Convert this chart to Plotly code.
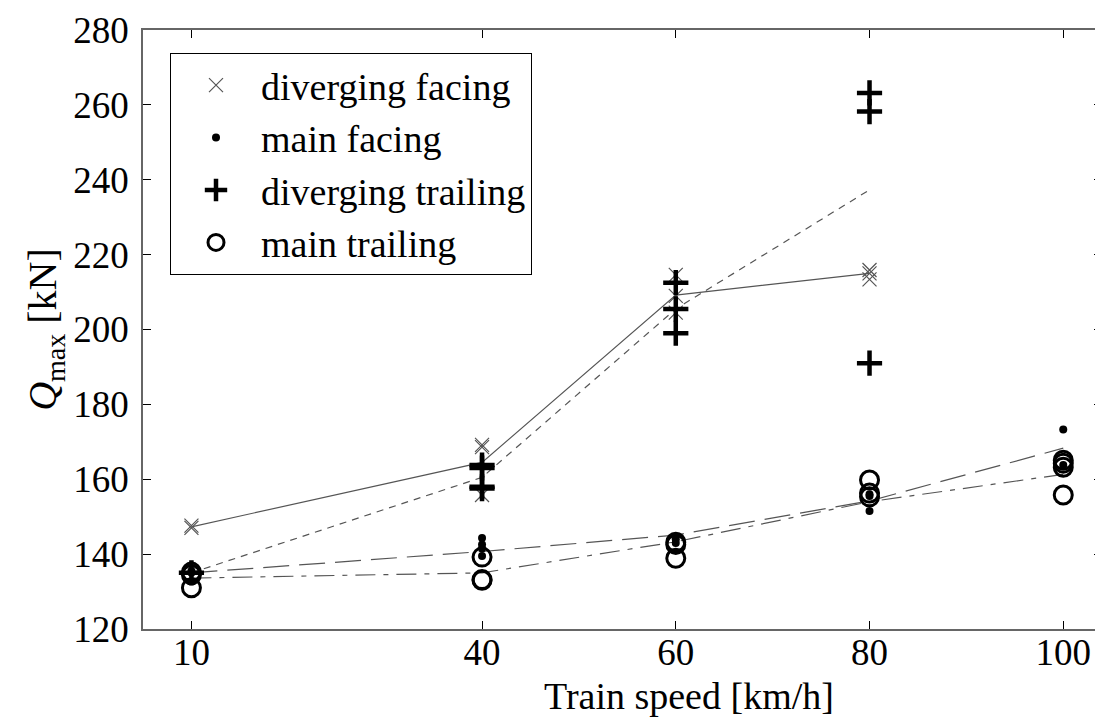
import plotly.graph_objects as go

# ---- data ----
speeds = [10, 40, 60, 80, 100]

# individual measurements (x, y)
div_facing_x = [10, 10, 40, 40, 40, 60, 60, 60, 80, 80, 80]
div_facing_y = [147.6, 147.0, 169.2, 168.6, 155.8, 214.6, 209.0, 204.5, 215.9, 215.0, 213.4]

main_facing_x = [10, 10, 40, 40, 40, 40, 60, 60, 80, 80, 80, 100, 100]
main_facing_y = [135.5, 135.0, 144.3, 142.6, 141.5, 139.5, 143.0, 144.0, 151.5, 155.5, 156.0, 173.3, 163.8]

div_trailing_x = [10, 40, 40, 40, 40, 60, 60, 60, 80, 80, 80]
div_trailing_y = [135.0, 163.8, 163.0, 158.0, 157.5, 212.5, 205.5, 199.0, 263.2, 258.2, 191.0]

main_trailing_x = [10, 10, 10, 40, 40, 40, 60, 60, 60, 80, 80, 80, 100, 100, 100, 100]
main_trailing_y = [135.2, 134.5, 131.0, 139.2, 133.2, 133.0, 143.2, 142.6, 138.9, 159.8, 156.3, 155.3, 165.1, 164.3, 163.2, 155.8]

# average lines
div_facing_line = [147.3, 164.5, 209.2, 215.0]
div_trailing_line = [135.0, 160.5, 205.5, 237.3]
main_facing_line = [135.0, 140.7, 145.1, 154.2, 168.3]
main_trailing_line = [133.6, 135.0, 143.3, 154.0, 161.3]

x_ticks = [10, 40, 60, 80, 100]
y_ticks = [120, 140, 160, 180, 200, 220, 240, 260, 280]

FONT = "Liberation Serif"
FS = 38
TICK_FS = 37
XT_FS = 38
LINE_C = "#555555"

fig = go.Figure()

# lines (no legend)
fig.add_trace(go.Scatter(x=speeds[:4], y=div_facing_line, mode="lines",
                         line=dict(color=LINE_C, width=1.2), showlegend=False, hoverinfo="skip"))
fig.add_trace(go.Scatter(x=speeds[:4], y=div_trailing_line, mode="lines",
                         line=dict(color=LINE_C, width=1.2, dash="7px,6px"), showlegend=False, hoverinfo="skip"))
fig.add_trace(go.Scatter(x=speeds, y=main_facing_line, mode="lines",
                         line=dict(color=LINE_C, width=1.2, dash="26px,10px"), showlegend=False, hoverinfo="skip"))
fig.add_trace(go.Scatter(x=speeds, y=main_trailing_line, mode="lines",
                         line=dict(color=LINE_C, width=1.2, dash="20px,8px,5px,8px"), showlegend=False, hoverinfo="skip"))

# markers
fig.add_trace(go.Scatter(x=div_facing_x, y=div_facing_y, mode="markers", name="diverging facing",
                         legendgroup="a",
                         marker=dict(symbol="x-thin", size=14, line=dict(color="#555555", width=1.2))))
fig.add_trace(go.Scatter(x=main_facing_x, y=main_facing_y, mode="markers", name="main facing",
                         legendgroup="b",
                         marker=dict(symbol="circle", size=8, color="black")))
fig.add_trace(go.Scatter(x=div_trailing_x, y=div_trailing_y, mode="markers", name="diverging trailing",
                         legendgroup="c",
                         marker=dict(symbol="cross-thin", size=18, line=dict(color="black", width=4.5))))
fig.add_trace(go.Scatter(x=main_trailing_x, y=main_trailing_y, mode="markers", name="main trailing",
                         legendgroup="d",
                         marker=dict(symbol="circle-open", size=18, color="black", line=dict(color="black", width=3))))

axis_common = dict(
    showgrid=False, zeroline=False, showline=True, linecolor="#666666", linewidth=1.5,
    mirror="ticks", ticks="inside", ticklen=8, tickcolor="black", tickwidth=1,
    tickfont=dict(family=FONT, size=TICK_FS, color="black"), automargin=False,
)

fig.update_xaxes(range=[5, 104], tickvals=x_ticks, ticktext=[str(v) for v in x_ticks],
                 ticklabelstandoff=-10, **axis_common)
fig.update_yaxes(range=[120, 280], tickvals=y_ticks, ticktext=[str(v) for v in y_ticks],
                 title=dict(text="<i>Q</i><sub>max</sub> [kN]", font=dict(family=FONT, size=40, color="black"), standoff=4),
                 ticklabelstandoff=5,
                 **axis_common)

# page body has an 8px margin: plot area is placed so that it spans x 143..1102, y 30..629 in the window
W, H = 1095, 710
ML, MR, MT, MB = 135, 1, 22, 89
plot_w = W - ML - MR
plot_h = H - MT - MB

fig.add_annotation(text="Train speed [km/h]", xref="paper", yref="paper",
                   x=(689 - 143) / plot_w, y=(629 - 696) / plot_h, xanchor="center", yanchor="middle",
                   showarrow=False, font=dict(family=FONT, size=XT_FS, color="black"))

fig.update_layout(
    width=W, height=H,
    margin=dict(l=ML, r=MR, t=MT, b=MB),
    paper_bgcolor="white", plot_bgcolor="white",
    font=dict(family=FONT, size=FS, color="black"),
    legend=dict(x=(170 - 143) / plot_w, y=1 - (53 - 30) / plot_h, xanchor="left", yanchor="top",
                bgcolor="white", bordercolor="black", borderwidth=1,
                font=dict(family=FONT, size=FS, color="black"),
                tracegroupgap=0, itemwidth=80),
)

fig.write_html("out.html")
